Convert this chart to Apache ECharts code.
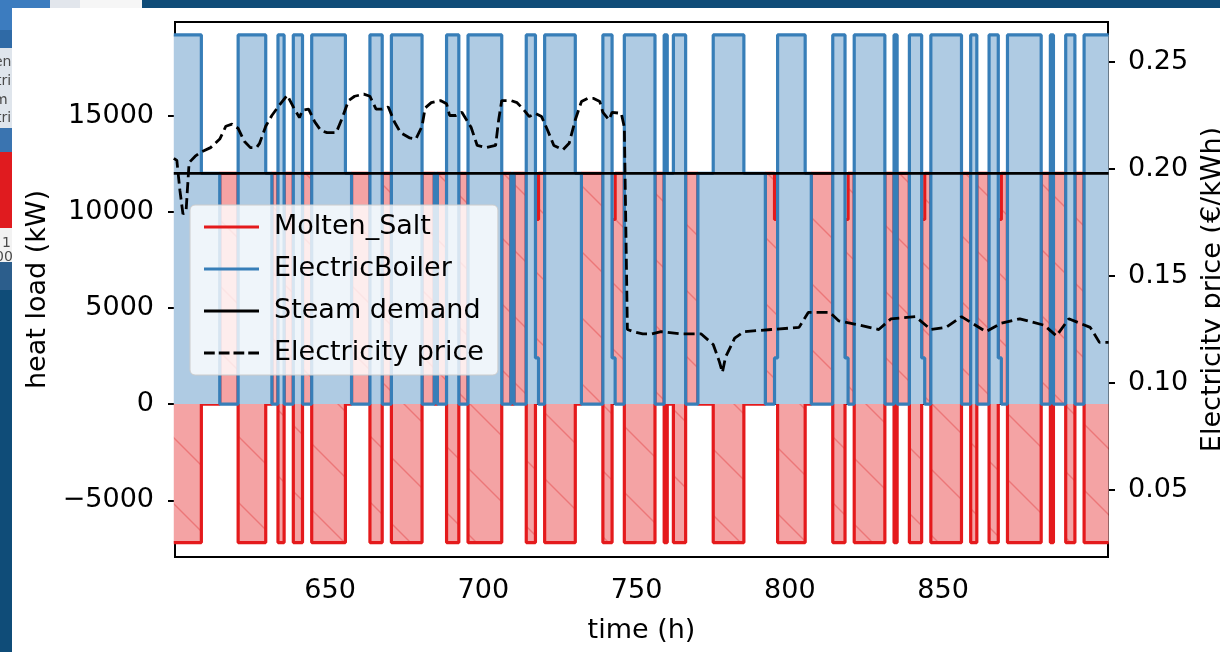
<!DOCTYPE html>
<html><head><meta charset="utf-8">
<script src="https://cdn.jsdelivr.net/npm/echarts@6/dist/echarts.min.js"></script>
<style>html,body{margin:0;padding:0;background:#fff}#c{width:1220px;height:652px}</style>
</head><body><div id="c"></div>
<script>
const seriesNames = ['Molten_Salt', 'ElectricBoiler', 'Steam demand', 'Electricity price'];
// operating runs: hour the run starts, storage heat (kW), boiler heat (kW)
const runStart = [599,608,614,620,629,631,633,635,638,641,
  644,655,657,663,667,670,680,684,685,688,
  692,695,706,709,710,714,717,718,720,730,
  732,739,742,743,746,756,759,760,762,766,
  770,775,785,792,795,796,805,807,814,818,
  819,821,831,834,835,839,843,844,846,856,
  859,861,865,868,869,871,882,885,886,890,
  893,896];
const runSalt = [-7200,0,12000,-7200,0,12000,-7200,12000,-7200,12000,
  -7200,0,12000,-7200,12000,-7200,12000,0,12000,-7200,
  12000,-7200,12000,0,12000,-7200,9600,12000,-7200,0,
  12000,-7200,9600,12000,-7200,12000,-7200,0,-7200,12000,
  0,-7200,0,12000,9600,-7200,0,12000,-7200,9600,
  12000,-7200,12000,-7200,12000,-7200,9600,12000,-7200,12000,
  -7200,12000,-7200,9600,12000,-7200,12000,-7200,12000,-7200,
  12000,-7200];
const runBoiler = [19200,12000,0,19200,12000,0,19200,0,19200,0,
  19200,12000,0,19200,0,19200,0,12000,0,19200,
  0,19200,0,12000,0,19200,2400,0,19200,12000,
  0,19200,2400,0,19200,0,19200,12000,19200,0,
  12000,19200,12000,0,2400,19200,12000,0,19200,2400,
  0,19200,0,19200,0,19200,2400,0,19200,0,
  19200,0,19200,2400,0,19200,0,19200,0,19200,
  0,19200];
const endHour = 904;
const steamDemand = 12000;
const priceHours = [599,600,601,602,603,604,606,608,611,614,616,618,620,622,624,626,627,629,631,633,636,638,640,641,643,645,647,649,652,654,656,658,661,663,665,667,669,671,673,676,678,680,681,683,686,688,689,691,693,696,698,701,704,705,706,709,711,713,715,717,719,721,723,726,728,730,732,734,736,738,739,741,742,745,746,747,749,752,755,758,764,771,775,777,778,779,782,785,794,803,806,813,816,823,829,833,841,846,851,856,864,869,875,883,887,891,898,901,904];
const priceValues = [0.205,0.204,0.190,0.179,0.180,0.203,0.206,0.208,0.210,0.214,0.220,0.221,0.219,0.213,0.210,0.210,0.212,0.220,0.225,0.229,0.2345,0.229,0.224,0.2275,0.228,0.222,0.218,0.217,0.217,0.224,0.232,0.234,0.235,0.234,0.228,0.228,0.229,0.222,0.217,0.2145,0.214,0.220,0.2285,0.231,0.232,0.2305,0.225,0.225,0.2265,0.2195,0.211,0.210,0.211,0.223,0.232,0.232,0.231,0.228,0.2245,0.226,0.2245,0.218,0.211,0.209,0.212,0.223,0.2315,0.233,0.233,0.2315,0.2265,0.223,0.2265,0.226,0.2195,0.125,0.124,0.123,0.123,0.124,0.123,0.123,0.118,0.110,0.105,0.112,0.121,0.124,0.125,0.126,0.133,0.133,0.129,0.127,0.125,0.130,0.131,0.125,0.126,0.131,0.124,0.128,0.130,0.127,0.122,0.130,0.126,0.119,0.119];
const xTicks = [650, 700, 750, 800, 850];
const leftTicks = [-5000, 0, 5000, 10000, 15000];
const rightTicks = [0.05, 0.10, 0.15, 0.20, 0.25];

function stepData(values) {
  const d = runStart.map((h, i) => [h, values[i]]);
  d.push([endHour, values[values.length - 1]]);
  return d;
}
const saltData = stepData(runSalt);
const boilerData = stepData(runBoiler);
const demandData = [[runStart[0], steamDemand], [endHour, steamDemand]];
const priceData = priceHours.map((h, i) => [h, priceValues[i]]);

// hatch pattern for the storage area
const S = 66;
const hc = document.createElement('canvas');
hc.width = S; hc.height = S;
const g = hc.getContext('2d');
g.fillStyle = '#f4a3a4'; g.fillRect(0, 0, S, S);
g.strokeStyle = '#ec7778'; g.lineWidth = 1.4;
g.beginPath();
g.moveTo(-2, -2); g.lineTo(S + 2, S + 2);
g.moveTo(S - 2, -2); g.lineTo(S + 2, 2);
g.moveTo(-2, S - 2); g.lineTo(2, S + 2);
g.stroke();

const LINE_ICON = 'path://M0,0h55v3h-55z';
const DASH_ICON = 'path://M0,0h10.75v3h-10.75z M14.75,0h10.75v3h-10.75z M29.5,0h10.75v3h-10.75z M44.25,0h10.75v3h-10.75z';

const FONT = 'DejaVu Sans';
const FS = 27;
const stripText = (x, y, t) => ({type: 'text', x: x, y: y, z: 1,
  style: {text: t, fill: '#4a4a4a', font: '14px "DejaVu Sans"', textVerticalAlign: 'middle'}});
const chart = echarts.init(document.getElementById('c'), null, {renderer: 'canvas'});
chart.setOption({
  backgroundColor: '#ffffff',
  animation: false,
  textStyle: {fontFamily: FONT, color: '#000'},
  graphic: [
    {type: 'rect', z: 0, shape: {x: 0, y: 0, width: 1220, height: 8}, style: {fill: '#0f4c78'}},
    {type: 'rect', z: 0, shape: {x: 0, y: 0, width: 50, height: 8}, style: {fill: '#3c7cbf'}},
    {type: 'rect', z: 0, shape: {x: 50, y: 0, width: 30, height: 8}, style: {fill: '#e2e6ec'}},
    {type: 'rect', z: 0, shape: {x: 80, y: 0, width: 62, height: 8}, style: {fill: '#f6f6f6'}},
    {type: 'rect', z: 0, shape: {x: 0, y: 0, width: 12, height: 652}, style: {fill: '#0f4c78'}},
    {type: 'rect', z: 0, shape: {x: 0, y: 0, width: 12, height: 30}, style: {fill: '#3c7cbf'}},
    {type: 'rect', z: 0, shape: {x: 0, y: 30, width: 12, height: 18}, style: {fill: '#2f6aa6'}},
    {type: 'rect', z: 0, shape: {x: 0, y: 48, width: 12, height: 80}, style: {fill: '#dfe5ec'}},
    {type: 'rect', z: 0, shape: {x: 0, y: 128, width: 12, height: 24}, style: {fill: '#3a74b0'}},
    {type: 'rect', z: 0, shape: {x: 0, y: 152, width: 12, height: 76}, style: {fill: '#e01b1f'}},
    {type: 'rect', z: 0, shape: {x: 0, y: 228, width: 12, height: 34}, style: {fill: '#f2f2f2'}},
    {type: 'rect', z: 0, shape: {x: 0, y: 262, width: 12, height: 28}, style: {fill: '#2c5e8c'}},
    stripText(-6, 62, 'en'), stripText(-4, 81, 'tri'), stripText(-6, 100, 'm'), stripText(-4, 118, 'tri'),
    stripText(2, 243, '1'), stripText(-5, 257, '00'),
    {type: 'rect', z: 2, shape: {x: 12, y: 40, width: 12, height: 230}, style: {fill: '#ffffff'}}
  ],
  legend: {
    orient: 'vertical', left: 190, top: 205,
    data: [
      {name: seriesNames[0], icon: LINE_ICON},
      {name: seriesNames[1], icon: LINE_ICON},
      {name: seriesNames[2], icon: LINE_ICON},
      {name: seriesNames[3], icon: DASH_ICON}
    ],
    itemWidth: 55, itemHeight: 3, itemGap: 12,
    padding: [7, 14, 7, 14],
    backgroundColor: 'rgba(255,255,255,0.8)',
    borderColor: '#cccccc', borderWidth: 1, borderRadius: 5,
    textStyle: {fontFamily: FONT, fontSize: FS, color: '#000', lineHeight: 30, padding: [0, 0, 0, 10]},
    z: 10
  },
  grid: {left: 175, right: 112, top: 22, bottom: 95, containLabel: false, outerBoundsMode: 'none',
    show: true, borderColor: '#000', borderWidth: 2, backgroundColor: 'transparent'},
  xAxis: {
    type: 'value', min: 599.4, max: 903.8,
    name: 'time (h)', nameLocation: 'middle', nameGap: 60,
    nameTextStyle: {fontFamily: FONT, fontSize: FS, color: '#000'},
    axisLine: {show: true, lineStyle: {color: '#000', width: 2}},
    axisTick: {show: true, length: 7, lineStyle: {color: '#000', width: 2}, customValues: xTicks},
    axisLabel: {fontFamily: FONT, fontSize: FS, color: '#000', margin: 20, customValues: xTicks},
    splitLine: {show: false}
  },
  yAxis: [{
    type: 'value', min: -7950, max: 19870, position: 'left',
    name: 'heat load (kW)', nameLocation: 'middle', nameGap: 124, nameRotate: 90,
    nameTextStyle: {fontFamily: FONT, fontSize: FS, color: '#000'},
    axisLine: {show: true, lineStyle: {color: '#000', width: 2}},
    axisTick: {show: true, length: 7, lineStyle: {color: '#000', width: 2}, customValues: leftTicks},
    axisLabel: {fontFamily: FONT, fontSize: FS, color: '#000', margin: 21, customValues: leftTicks,
      formatter: v => (v < 0 ? '\u2212' + Math.abs(v) : String(v))},
    splitLine: {show: false}
  }, {
    type: 'value', min: 0.0187, max: 0.2687, position: 'right',
    name: 'Electricity price (\u20ac/kWh)', nameLocation: 'middle', nameGap: 66, nameRotate: 90,
    nameTextStyle: {fontFamily: FONT, fontSize: FS, color: '#000'},
    axisLine: {show: true, lineStyle: {color: '#000', width: 2}},
    axisTick: {show: true, length: 7, lineStyle: {color: '#000', width: 2}, customValues: rightTicks},
    axisLabel: {fontFamily: FONT, fontSize: FS, color: '#000', margin: 20, customValues: rightTicks,
      formatter: v => v.toFixed(2)},
    splitLine: {show: false}
  }],
  series: [{
    name: seriesNames[0], type: 'line', step: 'end', data: saltData, yAxisIndex: 0,
    showSymbol: false, symbol: 'none',
    lineStyle: {color: '#e41a1c', width: 3.2},
    itemStyle: {color: '#e41a1c'},
    areaStyle: {color: {image: hc, repeat: 'repeat'}, opacity: 1},
    z: 2
  }, {
    name: seriesNames[1], type: 'line', step: 'end', data: boilerData, yAxisIndex: 0,
    showSymbol: false, symbol: 'none',
    lineStyle: {color: '#377eb8', width: 3.2},
    itemStyle: {color: '#377eb8'},
    areaStyle: {color: '#afcbe3', opacity: 1},
    z: 3
  }, {
    name: seriesNames[2], type: 'line', data: demandData, yAxisIndex: 0,
    showSymbol: false, symbol: 'none',
    lineStyle: {color: '#000', width: 2.8},
    itemStyle: {color: '#000'},
    z: 4
  }, {
    name: seriesNames[3], type: 'line', data: priceData, yAxisIndex: 1,
    showSymbol: false, symbol: 'none',
    lineStyle: {color: '#000', width: 2.8, type: [11, 5]},
    itemStyle: {color: '#000'},
    z: 5
  }]
});
</script></body></html>
